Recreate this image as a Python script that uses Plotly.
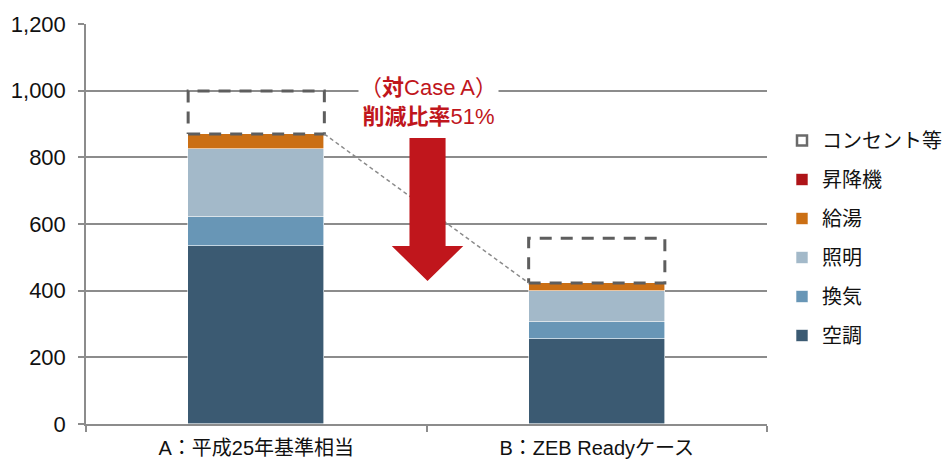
import plotly.graph_objects as go

# Primary energy consumption per case (MJ/m2·year), stacked by end use
cases = ["A：平成25年基準相当", "B：ZEB Readyケース"]
hvac = [533, 255]          # 空調
ventilation = [89, 52]     # 換気
lighting = [203, 92]       # 照明
hot_water = [44, 24]       # 給湯
elevator = [1, 0]          # 昇降機
outlets = [129, 134]       # コンセント等 (not counted in the reduction rate)

y_ticks = [0, 200, 400, 600, 800, 1000, 1200]

FONT = "Liberation Sans, Arial, Noto Sans CJK JP, sans-serif"
RED = "#C0161C"
GRID = "#8C8C8C"
BAR_W = 0.4
HALF = BAR_W / 2
xpos = list(range(len(cases)))

series = [
    ("空調", hvac, "#3B5A72"),
    ("換気", ventilation, "#6896B6"),
    ("照明", lighting, "#A3B9C9"),
    ("給湯", hot_water, "#CB6F14"),
    ("昇降機", elevator, "#AE1418"),
]

fig = go.Figure()
for i, (name, vals, color) in enumerate(series):
    fig.add_trace(go.Bar(
        x=xpos, y=vals, name=name, width=BAR_W,
        marker=dict(color=color, line=dict(color="white", width=0.6)),
        legendgroup=name, legendrank=100 - i,
    ))

# totals of the counted end uses
base = [sum(s[1][k] for s in series) for k in xpos]

# outlets: invisible stacked bar + dashed outline
fig.add_trace(go.Bar(
    x=xpos, y=outlets, name="コンセント等", width=BAR_W,
    marker=dict(color="rgba(0,0,0,0)", line=dict(width=0)),
    showlegend=False,
))
bx, by = [], []
for k in xpos:
    top = base[k] + outlets[k]
    bx += [k - HALF, k + HALF, k + HALF, k - HALF, k - HALF, None]
    by += [base[k], base[k], top, top, base[k], None]
fig.add_trace(go.Scatter(
    x=bx, y=by, mode="lines", hoverinfo="skip", showlegend=False,
    line=dict(color="#5E5E5E", width=3, dash="12px,9px"),
))
# legend entry for the outlets
fig.add_trace(go.Scatter(
    x=[None], y=[None], mode="markers", name="コンセント等",
    marker=dict(symbol="square-open", size=10, color="#6A6A6A",
                line=dict(width=2.5, color="#6A6A6A")),
    legendgroup="コンセント等", legendrank=90,
))

# connector between the two counted totals
fig.add_trace(go.Scatter(
    x=[0 + HALF, 1 - HALF], y=[base[0], base[1]], mode="lines",
    hoverinfo="skip", showlegend=False,
    line=dict(color="#8A8A8A", width=1.5, dash="4px,3px"),
))

# reduction arrow from case A down to case B
cx = 0.503
shaft, head = 0.053, 0.105
a_top = base[0] - 12
a_tip = base[1] + 6
a_neck = a_tip + 105
path = (f"M {cx - shaft},{a_top} L {cx + shaft},{a_top} L {cx + shaft},{a_neck} "
        f"L {cx + head},{a_neck} L {cx},{a_tip} L {cx - head},{a_neck} "
        f"L {cx - shaft},{a_neck} Z")
fig.add_shape(type="path", path=path, xref="x", yref="y",
              fillcolor=RED, line=dict(width=0), layer="above")

pct = round((1 - base[1] / base[0]) * 100)
fig.add_annotation(
    x=0.505, y=966, xref="x", yref="y", showarrow=False,
    text=f"（<b>対</b>Case A）<br><b>削減比率</b>{pct}%",
    font=dict(family=FONT, size=22, color=RED),
    bgcolor="white", align="center",
)

fig.update_layout(
    width=945, height=463,
    margin=dict(l=86, r=178, t=24, b=39, autoexpand=False),
    barmode="stack", bargap=0,
    plot_bgcolor="white", paper_bgcolor="white",
    font=dict(family=FONT, size=20, color="#111111"),
    showlegend=True,
    legend=dict(
        xref="container", yref="container",
        x=782 / 945, xanchor="left", y=1 - 121 / 463, yanchor="top",
        traceorder="reversed+grouped", tracegroupgap=10,
        font=dict(family=FONT, size=20, color="#111111"),
        itemwidth=30, bgcolor="rgba(0,0,0,0)",
    ),
    xaxis=dict(
        range=[-0.5, 1.5], tickmode="array", tickvals=xpos, ticktext=cases,
        ticks="", showgrid=False, zeroline=False, automargin=False,
        showline=True, linecolor=GRID, linewidth=1.5,
        tickfont=dict(size=20, color="#111111"), ticklabelstandoff=5,
        minor=dict(tickmode="array", tickvals=[-0.5, 0.5, 1.5],
                   ticks="outside", ticklen=6, tickcolor=GRID, tickwidth=1.5),
    ),
    yaxis=dict(
        range=[0, 1200], tickmode="array", tickvals=y_ticks, automargin=False,
        tickformat=",", ticks="outside", ticklen=6, tickcolor=GRID, tickwidth=1.5,
        showgrid=True, gridcolor=GRID, gridwidth=1.5, zeroline=False,
        showline=True, linecolor=GRID, linewidth=1.5,
        tickfont=dict(size=22, color="#111111"), ticklabelstandoff=8,
    ),
)

fig.write_html("out.html")
